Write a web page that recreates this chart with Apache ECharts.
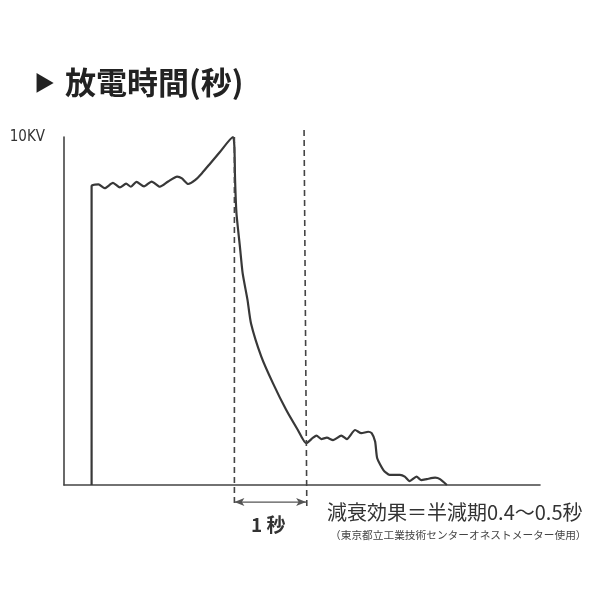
<!DOCTYPE html>
<html>
<head>
<meta charset="utf-8">
<script src="https://cdn.jsdelivr.net/npm/echarts@6/dist/echarts.min.js"></script>
<style>
html,body{margin:0;padding:0;background:#fff;}
#c{width:600px;height:600px;}
</style>
</head>
<body>
<div id="c"></div>
<script>
// Time (s) and voltage (kV) of the discharge curve
const timeSec = [0.40,0.40,0.50,0.59,0.71,0.81,0.90,0.97,1.05,1.16,1.27,1.39,1.51,1.64,1.71,1.80,1.90,2.00,2.12,2.26,2.45,2.47,2.48,2.50,2.55,2.59,2.66,2.71,2.86,3.03,3.22,3.39,3.51,3.61,3.66,3.73,3.81,3.90,4.02,4.10,4.22,4.31,4.41,4.46,4.51,4.54,4.63,4.72,4.87,4.94,5.01,5.11,5.18,5.26,5.38,5.45,5.55];
const voltKV  = [0,8.59,8.64,8.53,8.68,8.55,8.66,8.57,8.71,8.58,8.72,8.57,8.72,8.86,8.81,8.65,8.76,8.96,9.24,9.57,10.0,9.72,8.76,7.81,6.85,6.08,5.32,4.65,3.69,2.92,2.16,1.58,1.20,1.36,1.42,1.32,1.36,1.29,1.42,1.32,1.58,1.49,1.53,1.49,1.25,0.77,0.43,0.29,0.29,0.24,0.11,0.24,0.14,0.17,0.21,0.17,0];
// dashed markers one second apart
const markerStartX = [2.47, 2.47];
const markerStartY = [10.0, -0.60];
const markerEndX   = [3.48, 3.52];
const markerEndY   = [10.2, -0.72];
const spanX = [2.47, 3.51];
const spanY = -0.49;
const yTickLabels = {10: '10KV'};

const curve = timeSec.map((t,i)=>[t, voltKV[i]]);
const dash1 = markerStartX.map((x,i)=>[x, markerStartY[i]]);
const dash2 = markerEndX.map((x,i)=>[x, markerEndY[i]]);
const arrow = [
  {value:[spanX[0], spanY], symbol:'arrow', symbolRotate:90},
  {value:[spanX[1], spanY], symbol:'arrow', symbolRotate:-90}
];

const chart = echarts.init(document.getElementById('c'));
const FF = '"Noto Sans CJK JP", "Noto Sans", sans-serif';
chart.setOption({
  animation:false,
  backgroundColor:'#fff',
  title:{
    left:29, top:62,
    text:'{tri|▶} {t|放電時間(秒)}',
    textStyle:{
      rich:{
        tri:{fontSize:21, color:'#222', fontFamily:FF, padding:[0,5,0,0]},
        t:{fontSize:31, fontWeight:'bold', color:'#222', fontFamily:FF}
      }
    }
  },
  grid:{left:64, right:60, top:137, bottom:115},
  xAxis:{
    type:'value', min:0, max:6.9,
    axisLine:{show:true, onZero:false, lineStyle:{color:'#444', width:1.6}},
    axisTick:{show:false}, axisLabel:{show:false}, splitLine:{show:false}
  },
  yAxis:{
    type:'value', min:0, max:10, interval:10,
    axisLine:{show:true, lineStyle:{color:'#444', width:1.6}},
    axisTick:{show:false}, splitLine:{show:false},
    axisLabel:{
      margin:19, verticalAlign:'middle', padding:[12,0,0,0], fontSize:15,
      fontFamily:'"DejaVu Sans Condensed", sans-serif', color:'#333',
      formatter:v=> yTickLabels[v] || ''
    }
  },
  series:[
    {type:'line', data:curve, smooth:0.2, symbol:'none', clip:false,
     lineStyle:{color:'#383838', width:2.2}},
    {type:'line', data:dash1, symbol:'none', clip:false,
     lineStyle:{color:'#444', width:1.6, type:[6,4]}},
    {type:'line', data:dash2, symbol:'none', clip:false,
     lineStyle:{color:'#444', width:1.6, type:[6,4]}},
    {type:'line', data:arrow, symbolSize:[6,10], clip:false,
     itemStyle:{color:'#555'},
     lineStyle:{color:'#555', width:1.3}}
  ],
  graphic:[
    {type:'text', x:251, y:525, style:{text:'1 秒', fontSize:19, fontWeight:'bold', fontFamily:FF, fill:'#333', verticalAlign:'middle', align:'left'}},
    {type:'text', x:327, y:512, style:{text:'減衰効果＝半減期0.4〜0.5秒', fontSize:20, fontFamily:FF, fill:'#333', verticalAlign:'middle', align:'left'}},
    {type:'text', x:330, y:535, style:{text:'（東京都立工業技術センターオネストメーター使用）', fontSize:10.7, fontFamily:FF, fill:'#444', verticalAlign:'middle', align:'left'}}
  ]
});
</script>
</body>
</html>
